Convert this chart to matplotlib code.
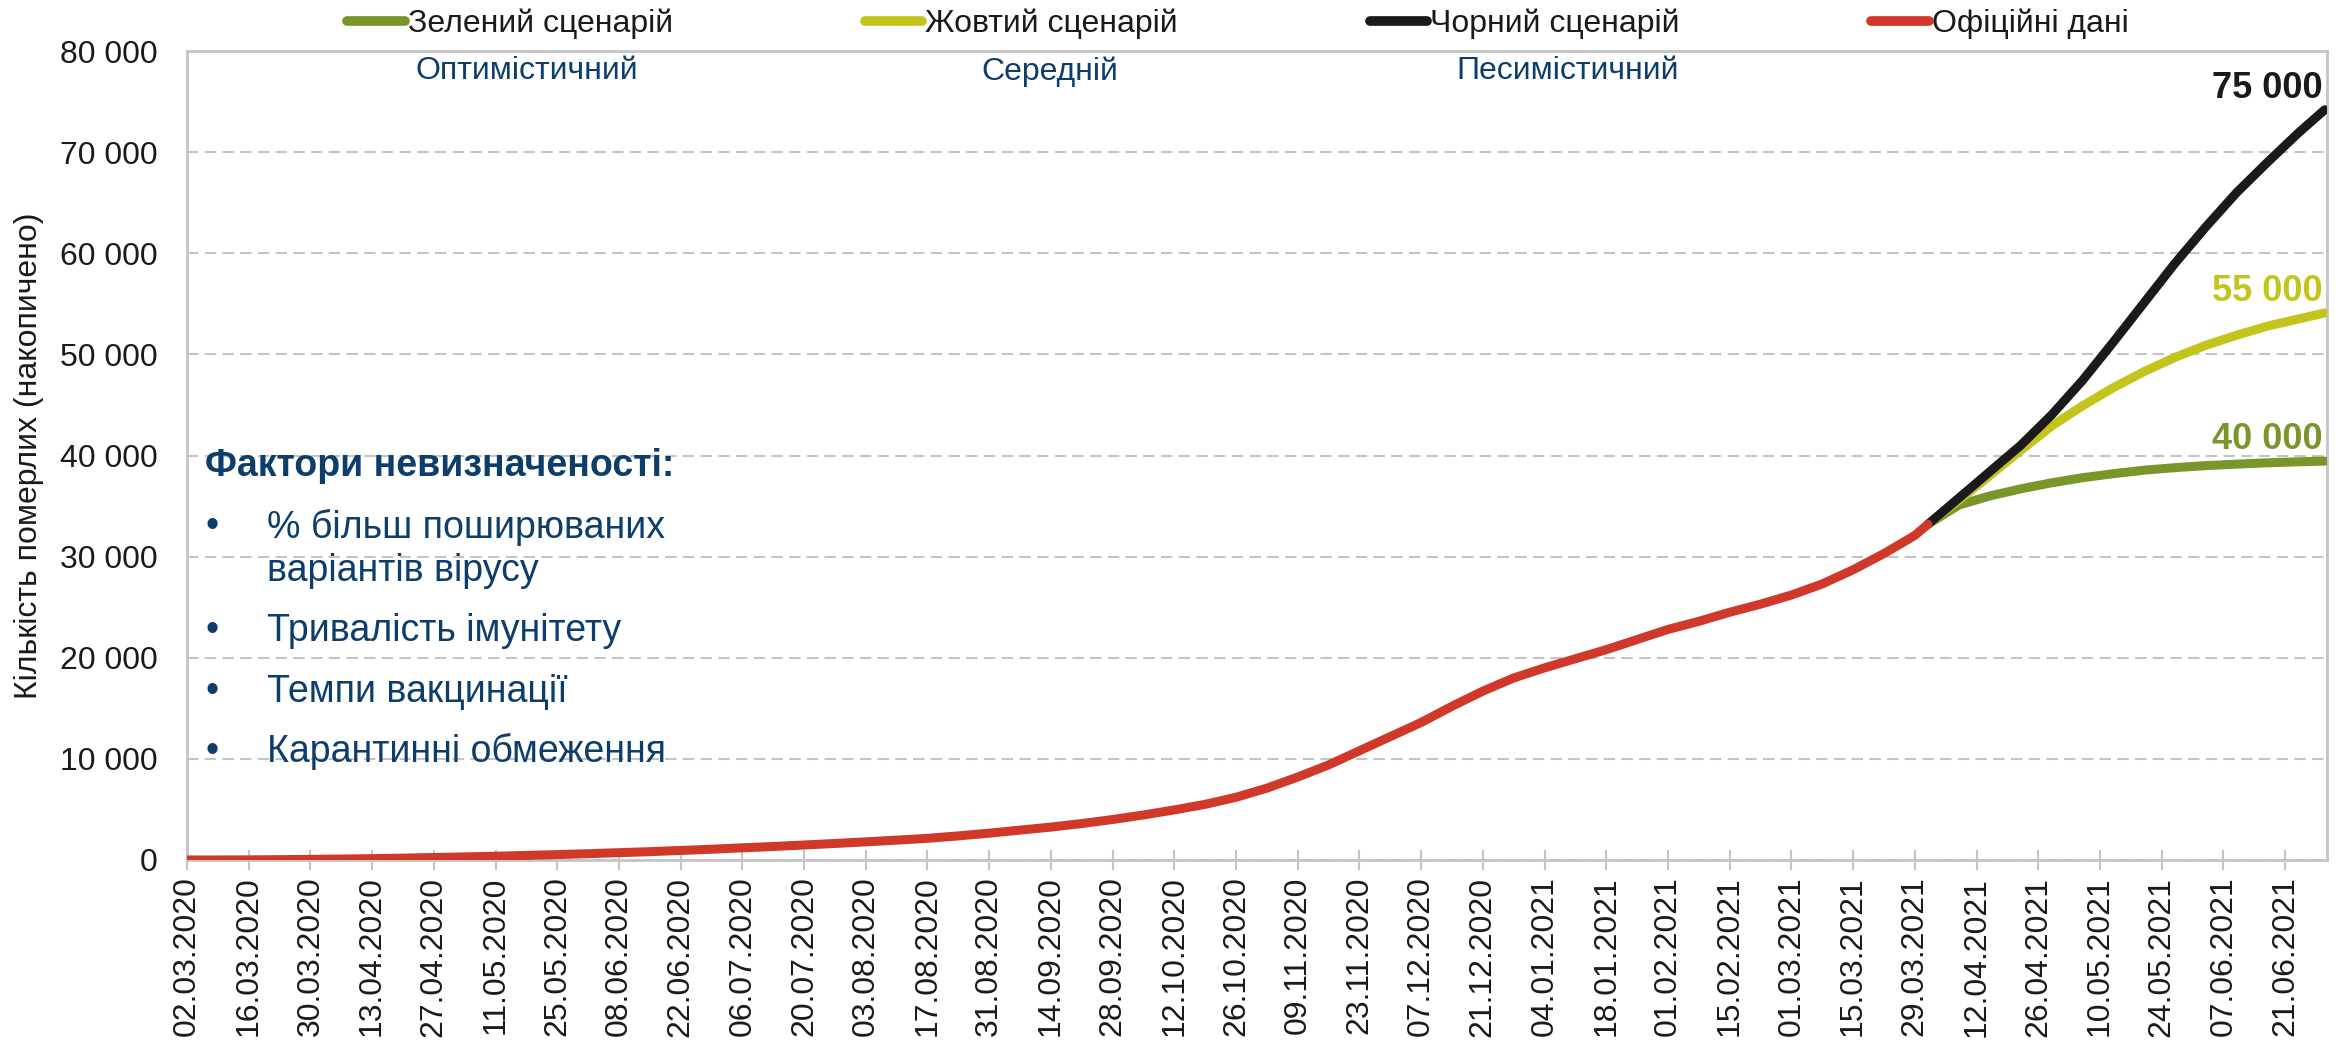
import numpy as np
import pandas as pd
import matplotlib
matplotlib.use("Agg")
import matplotlib.pyplot as plt
from matplotlib.ticker import FuncFormatter

plt.rcParams["font.family"] = ["Liberation Sans", "DejaVu Sans"]

# official cumulative deaths, weekly from 02.03.2020, last point 01.04.2021
official_dates = list(pd.date_range("2020-03-02", "2021-03-29", freq="7D")) + [pd.Timestamp("2021-04-01")]
official_vals = [
    0, 0, 10, 30, 60, 90, 130, 180, 240, 300,
    370, 450, 530, 620, 720, 820, 940, 1060, 1200, 1330,
    1480, 1630, 1790, 1960, 2140, 2380, 2650, 2950, 3250, 3600,
    4000, 4450, 4950, 5500, 6200, 7100, 8200, 9400, 10800, 12200,
    13600, 15200, 16700, 18000, 19000, 19900, 20800, 21800, 22800, 23600,
    24500, 25300, 26200, 27300, 28700, 30300, 32100, 33200,
]

scen_dates = pd.to_datetime([
    "2021-04-01", "2021-04-08", "2021-04-15", "2021-04-22", "2021-04-29",
    "2021-05-06", "2021-05-13", "2021-05-20", "2021-05-27", "2021-06-03",
    "2021-06-10", "2021-06-17", "2021-06-24", "2021-06-30",
])
green_vals = [33200, 35100, 36000, 36700, 37300, 37800, 38200, 38550, 38800, 39000, 39150, 39280, 39380, 39450]
yellow_vals = [33200, 35600, 38000, 40500, 42900, 44900, 46700, 48300, 49700, 50900, 51900, 52800, 53500, 54100]
black_vals = [33200, 35800, 38400, 41000, 44000, 47400, 51200, 55100, 59000, 62600, 66000, 69000, 71900, 74200]

end_labels = ["40 000", "55 000", "75 000"]
scenario_notes = ["Оптимістичний", "Середній", "Песимістичний"]
factors_title = "Фактори невизначеності:"
factor_lines = ["% більш поширюваних", "варіантів вірусу", "Тривалість імунітету",
                "Темпи вакцинації", "Карантинні обмеження"]
factor_bullet = [True, False, True, True, True]

GREEN = "#7A962B"
YELLOW = "#C3C41C"
BLACK = "#1A1A1A"
RED = "#D0392A"
BLUE = "#0C3D6B"
GRID = "#C4C4C4"

fig = plt.figure(figsize=(23.49, 10.43), dpi=100)
ax = fig.add_axes([0.0796, 0.1755, 0.9110, 0.7755])

lw = 6.5
l_g, = ax.plot(scen_dates, green_vals, color=GREEN, lw=lw, solid_capstyle="round", label="Зелений сценарій", zorder=3)
l_y, = ax.plot(scen_dates, yellow_vals, color=YELLOW, lw=lw, solid_capstyle="round", label="Жовтий сценарій", zorder=4)
l_b, = ax.plot(scen_dates, black_vals, color=BLACK, lw=lw, solid_capstyle="round", label="Чорний сценарій", zorder=5)
l_r, = ax.plot(official_dates, official_vals, color=RED, lw=lw, solid_capstyle="round", label="Офіційні дані", zorder=6)

ax.set_xlim(pd.Timestamp("2020-03-02"), pd.Timestamp("2021-06-30 12:00"))
ax.set_ylim(0, 80000)

xt = pd.date_range("2020-03-02", "2021-06-21", freq="14D")
ax.set_xticks(xt)
ax.set_xticklabels([d.strftime("%d.%m.%Y") for d in xt], rotation=90, fontsize=23, color="#1A1A1A")
ax.tick_params(axis="x", direction="inout", length=14, width=1.5, color=GRID, pad=5)

ax.set_yticks(np.arange(0, 80001, 10000))
ax.yaxis.set_major_formatter(FuncFormatter(lambda v, p: f"{int(v):,}".replace(",", " ")))
ax.tick_params(axis="y", length=0, pad=21, labelsize=23, labelcolor="#1A1A1A")

ax.yaxis.grid(True, color=GRID, linestyle=(0, (5.5, 3)), linewidth=1.5)
ax.set_axisbelow(True)
for s in ax.spines.values():
    s.set_color(GRID)
    s.set_linewidth(2)

ax.set_ylabel("Кількість померлих (накопичено)", fontsize=23, color="#1A1A1A")
ax.yaxis.set_label_coords(-0.0666, 0.5)

# end-of-scenario labels
for vals, txt, col in zip([green_vals, yellow_vals, black_vals], end_labels, [GREEN, YELLOW, BLACK]):
    ax.text(0.998, vals[-1] + 2100, txt, transform=ax.get_yaxis_transform(),
            ha="right", va="center", fontsize=26, fontweight="bold", color=col)

# scenario names at the top
for xf, txt in zip([0.159, 0.403, 0.645], scenario_notes):
    ax.text(xf, 0.975, txt, transform=ax.transAxes, ha="center", va="center", fontsize=23, color=BLUE)

# uncertainty factors block
ax.text(0.0084, 0.487, factors_title, transform=ax.transAxes, ha="left", va="center",
        fontsize=27, fontweight="bold", color=BLUE)
for yf, txt, bul in zip([0.4116, 0.3572, 0.2830, 0.2077, 0.1335], factor_lines, factor_bullet):
    if bul:
        ax.text(0.0115, yf, "•", transform=ax.transAxes, ha="center", va="center", fontsize=27, color=BLUE)
    ax.text(0.0374, yf, txt, transform=ax.transAxes, ha="left", va="center", fontsize=27, color=BLUE)

leg = fig.legend(handles=[l_g, l_y, l_b, l_r], loc="center", bbox_to_anchor=(0.527, 0.977),
                 ncol=4, frameon=False, fontsize=23, handlelength=1.8, handletextpad=0.1,
                 columnspacing=6.0)
for t in leg.get_texts():
    t.set_color("#1A1A1A")
for h in leg.legend_handles:
    h.set_linewidth(7)

fig.savefig("out.png", dpi=100)
